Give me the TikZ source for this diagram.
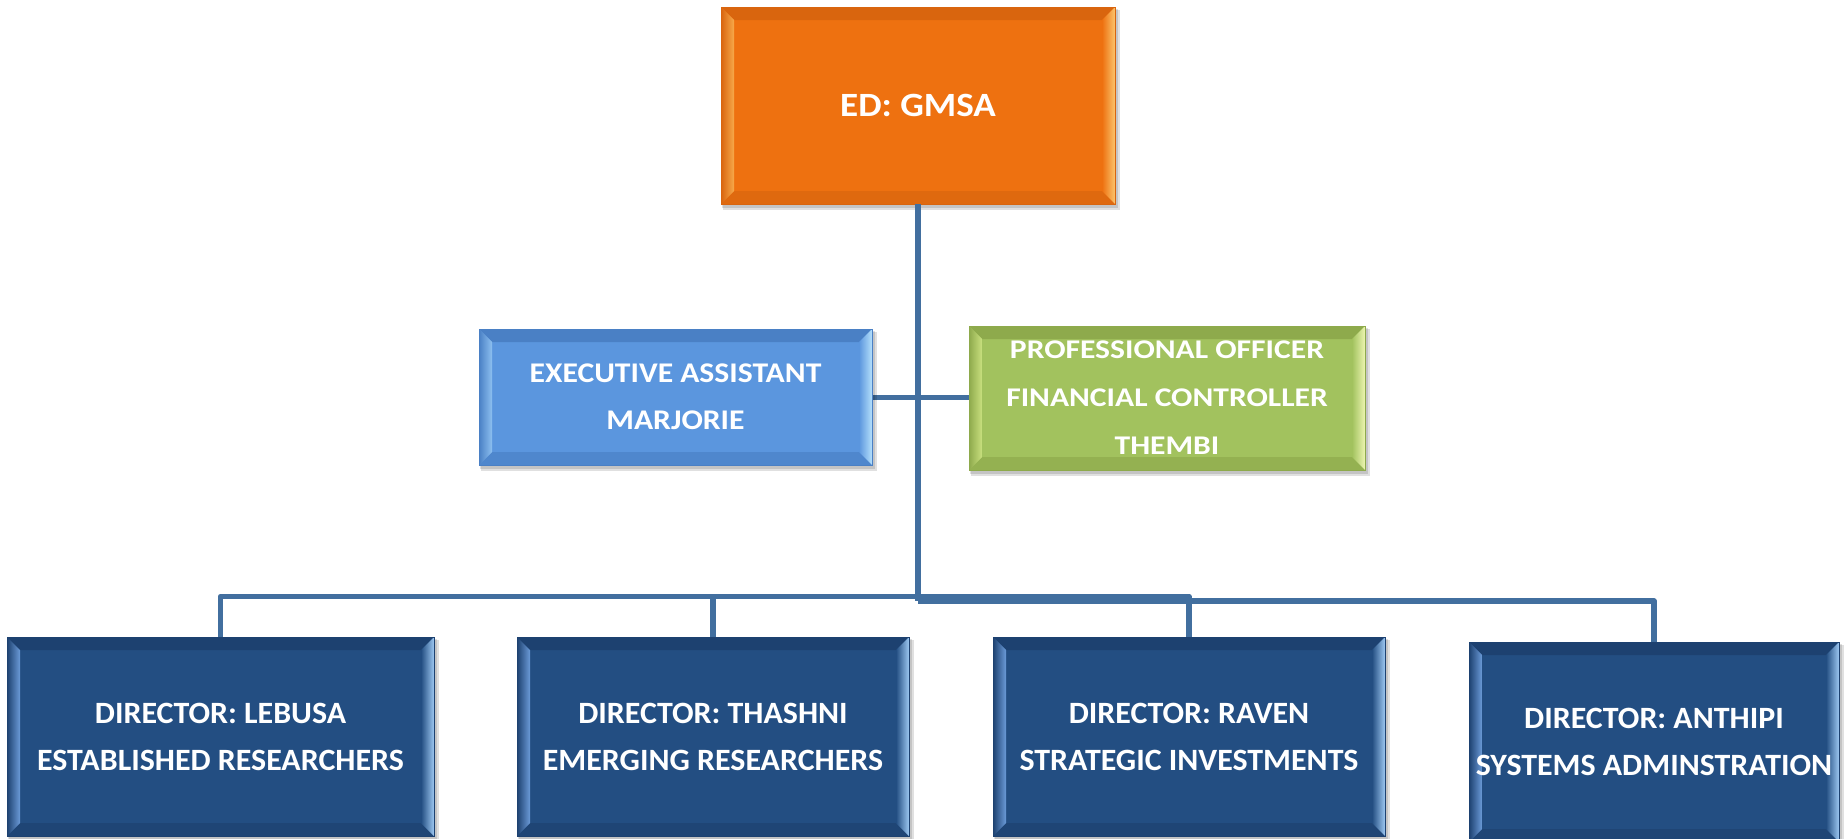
\documentclass[tikz,border=0pt]{standalone}
\usepackage{fontspec}
\setmainfont{Carlito}
\newfontfamily\fedfont[FakeStretch=1.09]{Carlito}
\newfontfamily\fexfont[FakeStretch=1.11]{Carlito}
\newfontfamily\fgrfont[FakeStretch=1.17]{Carlito}
\newfontfamily\fdrfont[FakeStretch=1.03]{Carlito}
\usetikzlibrary{calc}

\definecolor{orMain}{HTML}{EE7110}
\definecolor{orLite}{HTML}{F7A94A}
\definecolor{orHi}{HTML}{FBC46C}
\definecolor{orDark}{HTML}{D9650E}
\definecolor{exMain}{HTML}{5B96DE}
\definecolor{exLite}{HTML}{8DC0F0}
\definecolor{exHi}{HTML}{B5E0FB}
\definecolor{exDark}{HTML}{4A80C5}
\definecolor{grMain}{HTML}{A2C25E}
\definecolor{grLite}{HTML}{C9E07F}
\definecolor{grHi}{HTML}{ECF5B0}
\definecolor{grDark}{HTML}{8EAA4C}
\definecolor{drMain}{HTML}{234E82}
\definecolor{drLite}{HTML}{6B9BD8}
\definecolor{drHi}{HTML}{9DC8F2}
\definecolor{drDark}{HTML}{1D4170}
\definecolor{connC}{HTML}{426F9F}

\tikzset{
  boxnode/.style={inner sep=0pt, outer sep=0pt, draw=none},
  conn/.style={draw=connC, line width=5.5pt, line join=round},
  boxtext/.style={text=white, align=center, inner sep=0pt},
  ortxt/.style={boxtext, font=\fedfont\bfseries\fontsize{34}{41}\selectfont},
  extxt/.style={boxtext, font=\fexfont\bfseries\fontsize{28.5}{47}\selectfont},
  grtxt/.style={boxtext, font=\fgrfont\bfseries\fontsize{27}{48}\selectfont},
  drtxt/.style={boxtext, font=\fdrfont\bfseries\fontsize{31}{47}\selectfont},
}

% name, x1, y1, x2, y2, colour prefix, text
\newcommand\bevbox[7]{%
  \def\bw{13}%
  \fill[black,opacity=0.12] (#2+2,#3+3) rectangle (#4+5,#5+6);
  \fill[black,opacity=0.12] (#2+1,#3+2) rectangle (#4+3,#5+4);
  \node[boxnode, minimum width={#4pt-#2pt}, minimum height={#5pt-#3pt}] (#1) at ({(#2+#4)/2},{(#3+#5)/2}) {};
  \fill[#6Main] (#2,#3) rectangle (#4,#5);
  \fill[#6Dark] (#2,#3) -- (#4,#3) -- (#4-\bw,#3+\bw) -- (#2+\bw,#3+\bw) -- cycle;
  \fill[#6Dark!70!#6Main] (#2,#5) -- (#4,#5) -- (#4-\bw,#5-\bw) -- (#2+\bw,#5-\bw) -- cycle;
  \shade[left color=#6Dark, right color=#6Lite] (#2,#3) -- (#2+\bw,#3+\bw) -- (#2+\bw,#5-\bw) -- (#2,#5) -- cycle;
  \shade[left color=#6Main, right color=#6Hi] (#4,#3) -- (#4-\bw,#3+\bw) -- (#4-\bw,#5-\bw) -- (#4,#5) -- cycle;
  \draw[#6Dark, line width=1pt] (#2,#3) rectangle (#4,#5);
  \node[#6txt] (#1-t) at (#1) {#7};
}

\begin{document}
\begin{tikzpicture}[x=1pt, y=-1pt]
\useasboundingbox (0,0) rectangle (1847,838);
\fill[white] (0,0) rectangle (1847,838);

\coordinate (hA) at (918,596.5);
\coordinate (hB) at (918,601);

\bevbox{ed}{721}{7}{1115}{204}{or}{ED: GMSA}

\draw[conn] (ed.south) -- (hB);
\draw[conn] (872,397.5) coordinate (eaR) -- (969,397.5) coordinate (poL);

\bevbox{ea}{479}{329}{872}{465}{ex}{EXECUTIVE ASSISTANT\\MARJORIE}
\bevbox{po}{969}{326}{1365}{470}{gr}{PROFESSIONAL OFFICER\\FINANCIAL CONTROLLER\\THEMBI}

\bevbox{d1}{7}{637}{434}{836}{dr}{DIRECTOR: LEBUSA\\ESTABLISHED RESEARCHERS}
\bevbox{d2}{517}{637}{909}{836}{dr}{DIRECTOR: THASHNI\\EMERGING RESEARCHERS}
\bevbox{d3}{993}{637}{1385}{836}{dr}{DIRECTOR: RAVEN\\STRATEGIC INVESTMENTS}
\bevbox{d4}{1469}{642}{1839}{842}{dr}{DIRECTOR: ANTHIPI\\SYSTEMS ADMINSTRATION}

\draw[conn] (d1.north) -- (d1.north |- hA) -- (hA -| d3.north) -- (d3.north);
\draw[conn] (d2.north) -- (d2.north |- hA);
\draw[conn] (hB) -- (hB -| d4.north) -- (d4.north);
\end{tikzpicture}
\end{document}
